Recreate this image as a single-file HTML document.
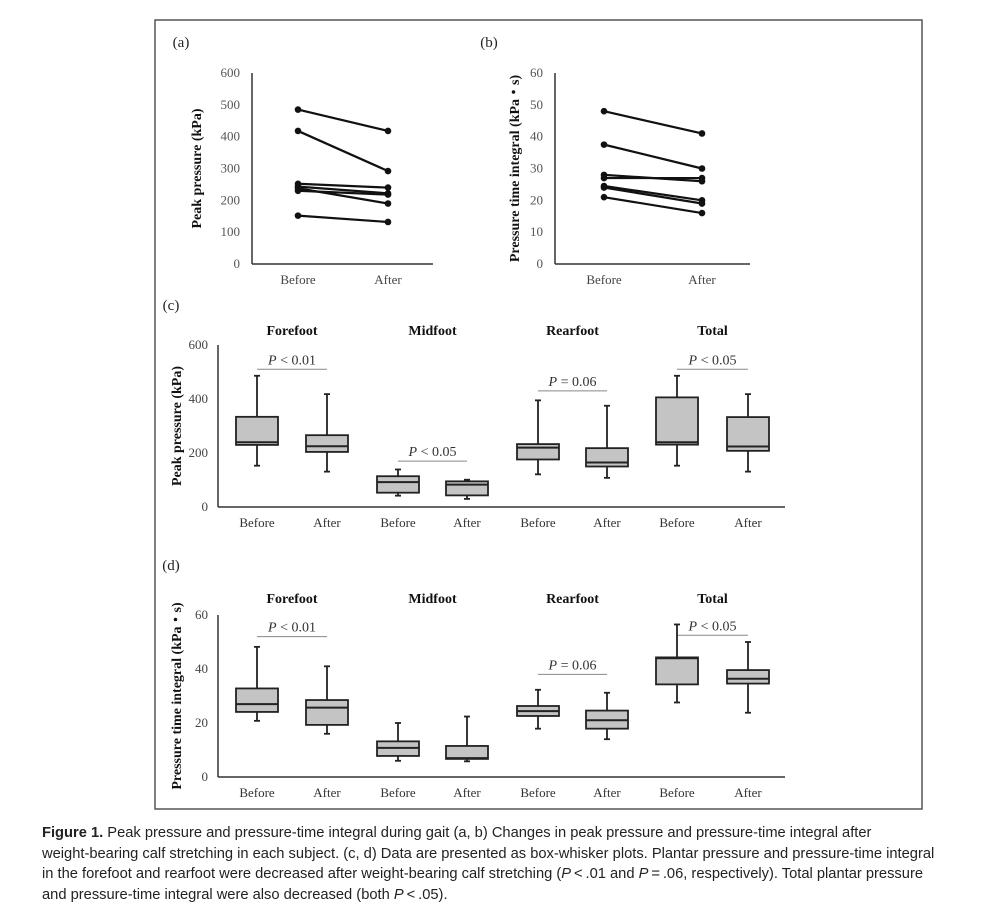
<!DOCTYPE html>
<html><head><meta charset="utf-8"><style>
body{margin:0;background:#fff;width:1000px;height:923px;overflow:hidden}
svg{position:absolute;left:0;top:0}
.cap{position:absolute;left:42px;top:823px;width:950px;white-space:nowrap;font-family:"Liberation Sans",sans-serif;font-size:14.7px;line-height:20.5px;color:#222}
</style></head><body>
<svg id="fig" width="1000" height="923" font-family="Liberation Serif, serif">
<rect x="155" y="20" width="767" height="789" fill="none" stroke="#555" stroke-width="1.5"/>
</svg>
<div class="cap"><b>Figure 1.</b> Peak pressure and pressure-time integral during gait (a, b) Changes in peak pressure and pressure-time integral after<br>weight-bearing calf stretching in each subject. (c, d) Data are presented as box-whisker plots. Plantar pressure and pressure-time integral<br>in the forefoot and rearfoot were decreased after weight-bearing calf stretching (<i>P</i>&thinsp;&lt;&thinsp;.01 and <i>P</i>&thinsp;=&thinsp;.06, respectively). Total plantar pressure<br>and pressure-time integral were also decreased (both <i>P</i>&thinsp;&lt;&thinsp;.05).</div>
<script>
const aBefore=[485,418,252,243,238,230,152];
const aAfter=[418,292,240,222,190,218,132];
const bBefore=[48,37.5,28,27,24.5,24,21];
const bAfter=[41,30,26,27,20,19,16];
const aTicks=[0,100,200,300,400,500,600];
const bTicks=[0,10,20,30,40,50,60];
const groups=["Forefoot","Midfoot","Rearfoot","Total"];
const cMin=[153,131,42,30,121,108,153,131];
const cQ1=[230,204,53,43,176,150,231,208];
const cMed=[240,225,92,83,220,165,240,224];
const cQ3=[334,266,114,95,233,218,406,333];
const cMax=[486,418,139,101,395,375,486,418];
const cP=["< 0.01","< 0.05","= 0.06","< 0.05"];
const cPVal=[510,170,430,510];
const dMin=[20.8,16,6,5.8,17.9,14,27.6,23.8];
const dQ1=[24.1,19.3,7.8,6.7,22.6,17.9,34.3,34.6];
const dMed=[27,25.7,10.8,7,24.4,21,44,36.4];
const dQ3=[32.8,28.5,13.2,11.5,26.3,24.6,44.3,39.6];
const dMax=[48.2,41,20,22.4,32.3,31.2,56.5,50];
const dP=["< 0.01","","= 0.06","< 0.05"];
const dPVal=[52,0,38,52.5];
const cTicks=[0,200,400,600];
const dTicks=[0,20,40,60];

const svg=document.getElementById('fig');
const NS='http://www.w3.org/2000/svg';
function el(t,a,txt){const e=document.createElementNS(NS,t);for(const k in a)e.setAttribute(k,a[k]);if(txt!==undefined)e.textContent=txt;svg.appendChild(e);return e;}

function txt(x,y,s,opt){const e=el('text',Object.assign({x:x,y:y,'font-size':13,fill:'#333','text-anchor':'middle'},opt||{}),s);return e;}

const l=txt(181,47,'(a)',{'font-size':15,fill:'#222'});


const l2=txt(489,47,'(b)',{'font-size':15,fill:'#222'});


const l3=txt(171,310,'(c)',{'font-size':15,fill:'#222'});


const l4=txt(171,570,'(d)',{'font-size':15,fill:'#222'});



function linePanel(id,ax,xEnd,bx,afx,yTop,yBot,max,ticks,bef,aft,title,titleX){
  const y=v=>yBot-(v/max)*(yBot-yTop);
  const a1=el('line',{x1:ax,y1:yTop,x2:ax,y2:yBot,stroke:'#333','stroke-width':1.5});
  
  
  const a2=el('line',{x1:ax,y1:yBot,x2:xEnd,y2:yBot,stroke:'#333','stroke-width':1.5});
  
  
  ticks.forEach(t=>{const e=txt(ax-12,y(t)+4,String(t),{'text-anchor':'end',fill:'#555'});
    
    });
  const bl=txt(bx,284,'Before',{fill:'#444'});
  
  
  const al=txt(afx,284,'After',{fill:'#444'});
  
  
  const t=txt(titleX,(yTop+yBot)/2,title,{'font-size':14,'font-weight':'bold',fill:'#111',transform:`rotate(-90 ${titleX} ${(yTop+yBot)/2})`});
  
  
  bef.forEach((v,i)=>{
    const ln=el('line',{x1:bx,y1:y(v),x2:afx,y2:y(aft[i]),stroke:'#111','stroke-width':2.2});
    
    
    const c1=el('circle',{cx:bx,cy:y(v),r:3.3,fill:'#111'});
    
    
    const c2=el('circle',{cx:afx,cy:y(aft[i]),r:3.3,fill:'#111'});
    
    
  });
}
linePanel('panel-a',252,433,298,388,73,264,600,aTicks,aBefore,aAfter,'Peak pressure (kPa)',201);
linePanel('panel-b',555,750,604,702,73,264,60,bTicks,bBefore,bAfter,'Pressure time integral (kPa・s)',519);

const centers=[257,327,398,467,538,607,677,748];
function boxPanel(id,yTop,yBot,max,ticks,mn,q1,md,q3,mx,pTxt,pVal,titleY,title){
  const ax=218;
  const y=v=>yBot-(v/max)*(yBot-yTop);
  const a1=el('line',{x1:ax,y1:yTop,x2:ax,y2:yBot,stroke:'#333','stroke-width':1.5});
  
  
  const a2=el('line',{x1:ax,y1:yBot,x2:785,y2:yBot,stroke:'#333','stroke-width':1.5});
  
  
  ticks.forEach(t=>{const e=txt(ax-10,y(t)+4,String(t),{'text-anchor':'end',fill:'#444'});
    
    });
  const tt=txt(181,(yTop+yBot)/2,title,{'font-size':14,'font-weight':'bold',fill:'#111',transform:`rotate(-90 181 ${(yTop+yBot)/2})`});
  
  
  groups.forEach((g,gi)=>{
    const cx=(centers[gi*2]+centers[gi*2+1])/2;
    const gt=txt(cx,titleY,g,{'font-size':14,'font-weight':'bold',fill:'#111'});
    
    
    if(pTxt[gi]){
      const py=y(pVal[gi]);
      const pl=el('line',{x1:centers[gi*2],y1:py,x2:centers[gi*2+1],y2:py,stroke:'#888','stroke-width':1});
      
      
      const pt=el('text',{x:cx,y:py-5,'font-size':14,fill:'#333','text-anchor':'middle'});
      
      
      pt.innerHTML='<tspan font-style="italic">P</tspan> '+pTxt[gi].replace('<','&lt;');
    }
  });
  centers.forEach((cx,i)=>{
    const xl=txt(cx,yBot+20,i%2?'After':'Before',{fill:'#333'});
    
    
    const w=el('line',{x1:cx,y1:y(mx[i]),x2:cx,y2:y(mn[i]),stroke:'#222','stroke-width':1.8});
    
    
    [mx[i],mn[i]].forEach(v=>{const c=el('line',{x1:cx-3,y1:y(v),x2:cx+3,y2:y(v),stroke:'#222','stroke-width':1.8});
      
      });
    const b=el('rect',{x:cx-21,y:y(q3[i]),width:42,height:y(q1[i])-y(q3[i]),fill:'#c4c4c4',stroke:'#222','stroke-width':1.8});
    
    
    const m=el('line',{x1:cx-21,y1:y(md[i]),x2:cx+21,y2:y(md[i]),stroke:'#222','stroke-width':2});
    
    
  });
}
boxPanel('panel-c',345,507,600,cTicks,cMin,cQ1,cMed,cQ3,cMax,cP,cPVal,335,'Peak pressure (kPa)');
boxPanel('panel-d',615,777,60,dTicks,dMin,dQ1,dMed,dQ3,dMax,dP,dPVal,603,'Pressure time integral (kPa・s)');
</script>
</body></html>
